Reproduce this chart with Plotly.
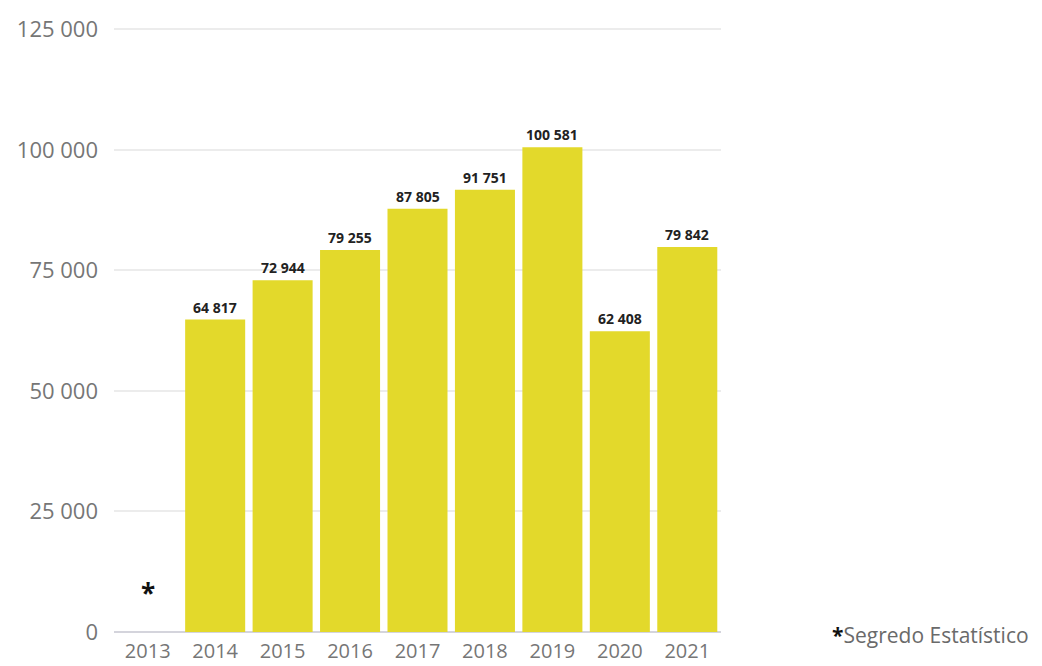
import plotly.graph_objects as go

# Annual totals; 2013 withheld (statistical secrecy)
years = ["2013", "2014", "2015", "2016", "2017", "2018", "2019", "2020", "2021"]
values = [None, 64817, 72944, 79255, 87805, 91751, 100581, 62408, 79842]
y_ticks = [0, 25000, 50000, 75000, 100000, 125000]

BAR_COLOR = "#e3d92b"
AXIS_TEXT = "#767676"
FONT = "Open Sans, Noto Sans, sans-serif"


def fmt(v):
    return f"{v:,}".replace(",", " ")


fig = go.Figure(
    go.Bar(
        x=years,
        y=values,
        marker=dict(color=BAR_COLOR, line=dict(width=0)),
        hoverinfo="x+y",
    )
)

# Value labels above each bar (x given as category index)
annotations = []
for i, v in enumerate(values):
    if v is None:
        annotations.append(dict(
            x=i, y=0, xref="x", yref="y", text="<b>*</b>",
            showarrow=False, yanchor="middle", yshift=39,
            font=dict(family=FONT, size=26, color="#111111"),
        ))
    else:
        annotations.append(dict(
            x=i, y=v, xref="x", yref="y", text=f"<b>{fmt(v)}</b>",
            showarrow=False, yanchor="bottom", yshift=1,
            font=dict(family=FONT, size=14, color="#222222"),
        ))

# Footnote
annotations.append(dict(
    x=1.180, y=-0.005, xref="paper", yref="paper", xanchor="left", yanchor="middle",
    text="<b><span style='color:#111111'>*</span></b>Segredo Estatístico",
    showarrow=False, font=dict(family=FONT, size=21, color="#6a6a6a"),
))

fig.update_layout(
    width=1042,
    height=666,
    margin=dict(l=114, r=321, t=27, b=34),
    paper_bgcolor="white",
    plot_bgcolor="white",
    separators=". ",
    bargap=0.11,
    showlegend=False,
    font=dict(family=FONT, color=AXIS_TEXT),
    annotations=annotations,
    xaxis=dict(
        type="category",
        categoryorder="array",
        categoryarray=years,
        range=[-0.5, 8.5],
        automargin=False,
        showgrid=False,
        showline=False,
        ticks="",
        tickfont=dict(family=FONT, size=20, color=AXIS_TEXT),
        ticklabelstandoff=5,
    ),
    yaxis=dict(
        range=[0, 125500],
        tickvals=y_ticks,
        ticktext=[fmt(t) for t in y_ticks],
        automargin=False,
        showgrid=True,
        gridcolor="#ececec",
        gridwidth=2,
        zeroline=True,
        zerolinecolor="#d4d4dc",
        zerolinewidth=1.5,
        showline=False,
        ticks="",
        tickfont=dict(family=FONT, size=22, color=AXIS_TEXT),
        ticklabelstandoff=15,
    ),
)

fig.write_html("out.html")
